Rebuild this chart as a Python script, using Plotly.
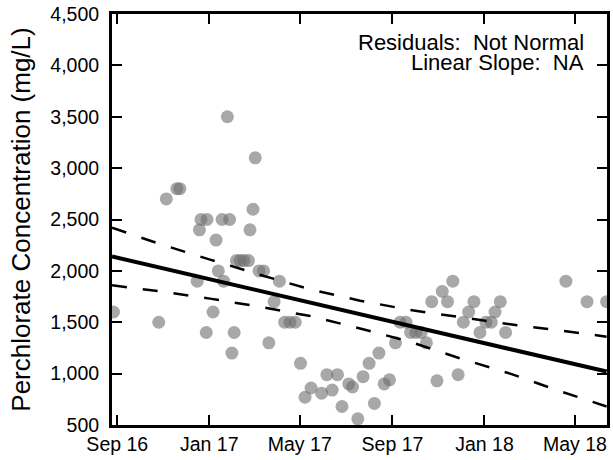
import plotly.graph_objects as go

# ---- data ----
sample_dates = [
    "2016-08-27", "2016-10-26", "2016-11-05", "2016-11-19", "2016-11-23", "2016-12-16", "2016-12-19", "2016-12-21", "2016-12-28", "2016-12-29",
    "2017-01-06", "2017-01-10", "2017-01-13", "2017-01-18", "2017-01-20", "2017-01-25", "2017-01-28", "2017-01-31", "2017-02-03", "2017-02-06",
    "2017-02-11", "2017-02-16", "2017-02-22", "2017-02-24", "2017-02-28", "2017-03-03", "2017-03-08", "2017-03-14", "2017-03-21", "2017-03-28",
    "2017-04-04", "2017-04-11", "2017-04-18", "2017-04-25", "2017-05-02", "2017-05-08", "2017-05-16", "2017-05-30", "2017-06-06", "2017-06-13",
    "2017-06-20", "2017-06-26", "2017-07-05", "2017-07-10", "2017-07-17", "2017-07-24", "2017-08-01", "2017-08-08", "2017-08-14", "2017-08-21",
    "2017-08-28", "2017-09-05", "2017-09-11", "2017-09-19", "2017-09-25", "2017-10-02", "2017-10-09", "2017-10-16", "2017-10-23", "2017-10-30",
    "2017-11-06", "2017-11-13", "2017-11-20", "2017-11-27", "2017-12-04", "2017-12-11", "2017-12-18", "2017-12-26", "2018-01-03", "2018-01-10",
    "2018-01-15", "2018-01-22", "2018-01-29", "2018-04-19", "2018-05-17", "2018-06-12",
]
perchlorate = [
    1600, 1500, 2700, 2800, 2800, 1900, 2400, 2500, 1400, 2500,
    1600, 2300, 2000, 2500, 1900, 3500, 2500, 1200, 1400, 2100,
    2100, 2100, 2100, 2400, 2600, 3100, 2000, 2000, 1300, 1700,
    1900, 1500, 1500, 1500, 1100, 770, 860, 810, 990, 840,
    990, 680, 900, 870, 560, 970, 1100, 710, 1200, 900,
    940, 1300, 1500, 1500, 1400, 1400, 1400, 1300, 1700, 930,
    1800, 1700, 1900, 990, 1500, 1600, 1700, 1400, 1500, 1500,
    1600, 1700, 1400, 1900, 1700, 1700,
]

fit_dates = ["2016-08-25", "2018-06-12"]
fit_values = [2140, 1020]

band_dates = ["2016-08-25", "2016-10-28", "2017-01-02", "2017-03-10", "2017-05-15", "2017-07-20",
              "2017-09-24", "2017-11-29", "2018-02-04", "2018-04-11", "2018-06-12"]
band_upper = [2420, 2260, 2110, 1960, 1820, 1710, 1620, 1550, 1480, 1420, 1360]
band_lower = [1860, 1800, 1730, 1650, 1560, 1440, 1310, 1150, 1000, 830, 680]

x_tick_dates = ["2016-09-01", "2017-01-01", "2017-05-01", "2017-09-01", "2018-01-01", "2018-05-01"]
x_tick_labels = ["Sep 16", "Jan 17", "May 17", "Sep 17", "Jan 18", "May 18"]
y_ticks = [500, 1000, 1500, 2000, 2500, 3000, 3500, 4000, 4500]

stats_lines = ["Residuals:\u00a0 Not Normal", "Linear Slope:\u00a0 NA"]

FONT = "Liberation Sans, Arial, Helvetica, sans-serif"

fig = go.Figure()
fig.add_trace(go.Scatter(
    x=sample_dates, y=perchlorate, mode="markers",
    marker=dict(size=13, color="rgb(110,110,110)", opacity=0.6, line=dict(width=0)),
    showlegend=False, hoverinfo="x+y",
))
fig.add_trace(go.Scatter(
    x=band_dates, y=band_upper, mode="lines",
    line=dict(color="black", width=2.5, dash="15px,16px"), showlegend=False,
))
fig.add_trace(go.Scatter(
    x=band_dates, y=band_lower, mode="lines",
    line=dict(color="black", width=2.5, dash="15px,16px"), showlegend=False,
))
fig.add_trace(go.Scatter(
    x=fit_dates, y=fit_values, mode="lines",
    line=dict(color="black", width=4), showlegend=False,
))

axis_common = dict(
    showline=True, linecolor="black", linewidth=3, mirror="ticks",
    ticks="inside", ticklen=10, tickwidth=1.5, tickcolor="black",
    showgrid=False, zeroline=False,
    tickfont=dict(family=FONT, size=19.5, color="black"),
)

fig.update_xaxes(
    range=["2016-08-25", "2018-06-12 12:00"],
    tickmode="array", tickvals=x_tick_dates, ticktext=x_tick_labels,
    **axis_common,
)
fig.update_yaxes(
    range=[500, 4500], tickmode="array", tickvals=y_ticks, tickformat=",d",
    ticklabelstandoff=6,
    title=dict(text="Perchlorate Concentration (mg/L)", font=dict(family=FONT, size=26, color="black"), standoff=13),
    **axis_common,
)

for txt, yy in zip(stats_lines, [0.9307, 0.8825]):
    fig.add_annotation(
        text=txt, xref="x domain", yref="y domain", x=0.957, y=yy,
        xanchor="right", yanchor="middle", showarrow=False,
        font=dict(family=FONT, size=22, color="black"),
    )

fig.update_layout(
    width=613, height=460,
    margin=dict(l=112, r=6, t=14, b=35, autoexpand=False),
    paper_bgcolor="white", plot_bgcolor="white",
    font=dict(family=FONT, color="black"),
)

fig.write_html("out.html", config={"displayModeBar": False},
               post_script="document.body.style.margin='0';")
